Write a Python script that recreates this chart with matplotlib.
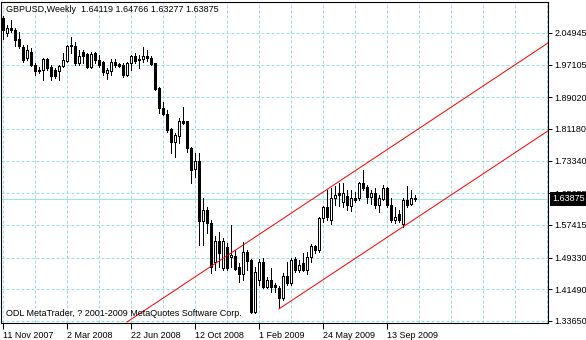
import numpy as np
import matplotlib
matplotlib.use('Agg')
import matplotlib.pyplot as plt
from matplotlib import transforms

# ---- Data (weekly GBPUSD bars) ----
opens = [2.0865, 2.0494, 2.0618, 2.0568, 2.0346, 2.0148, 1.9875, 2.0024, 1.9702, 1.9578,
         1.9578, 1.9851, 1.9652, 1.9578, 1.9553, 1.9677, 1.9801, 2.0197, 2.0172, 1.9751,
         2.0024, 1.9974, 1.9652, 1.9999, 1.9826, 1.9776, 1.9504, 1.9553, 1.9776, 1.9727,
         1.9702, 1.9454, 1.9751, 1.9925, 1.9851, 1.9851, 1.9925, 1.9875, 1.9751, 1.9133,
         1.8638, 1.8489, 1.8118, 1.7796, 1.7944, 1.8316, 1.8316, 1.7647, 1.7127, 1.7325,
         1.5840, 1.6113, 1.5791, 1.4825, 1.5345, 1.4677, 1.5196, 1.4948, 1.4974, 1.4701,
         1.4528, 1.5073, 1.4874, 1.3588, 1.4380, 1.4825, 1.4207, 1.4380, 1.4256, 1.4182,
         1.3934, 1.4479, 1.4305, 1.4899, 1.4627, 1.4800, 1.4627, 1.4948, 1.5221, 1.5122,
         1.5915, 1.6187, 1.5865, 1.6409, 1.6533, 1.6311, 1.6459, 1.6212, 1.6409, 1.6409,
         1.6781, 1.6682, 1.6434, 1.6533, 1.6236, 1.6385, 1.6657, 1.6236, 1.5865, 1.6013,
         1.5766, 1.6360, 1.6261, 1.64119]
highs = [2.0915, 2.0692, 2.0816, 2.0618, 2.0519, 2.0197, 2.0197, 2.0123, 1.9751, 1.9652,
         1.9875, 1.9875, 1.9702, 1.9628, 1.9702, 1.9999, 2.0197, 2.0395, 2.0271, 2.0073,
         2.0073, 1.9999, 2.0024, 2.0024, 1.9950, 1.9801, 1.9628, 1.9851, 1.9851, 1.9751,
         1.9751, 1.9776, 1.9950, 1.9999, 1.9950, 2.0148, 2.0073, 1.9925, 1.9751, 1.9157,
         1.8786, 1.8588, 1.8142, 1.8019, 1.8390, 1.8662, 1.8316, 1.7672, 1.7524, 1.7524,
         1.6409, 1.6187, 1.5865, 1.5469, 1.5568, 1.5419, 1.5295, 1.5741, 1.5122, 1.4800,
         1.5320, 1.5122, 1.4899, 1.4701, 1.4899, 1.4924, 1.4454, 1.4677, 1.4305, 1.4231,
         1.4553, 1.4825, 1.4924, 1.4948, 1.4874, 1.5048, 1.5073, 1.5271, 1.5246, 1.5939,
         1.6212, 1.6608, 1.6657, 1.6707, 1.6781, 1.6781, 1.6608, 1.6608, 1.6558, 1.6806,
         1.7103, 1.6731, 1.6608, 1.6657, 1.6484, 1.6731, 1.6682, 1.6409, 1.6187, 1.6113,
         1.6409, 1.6707, 1.6608, 1.64766]
lows = [2.0346, 2.0420, 2.0519, 2.0172, 2.0123, 1.9776, 1.9826, 1.9677, 1.9454, 1.9504,
        1.9331, 1.9578, 1.9331, 1.9380, 1.9331, 1.9652, 1.9776, 1.9999, 1.9702, 1.9702,
        1.9751, 1.9628, 1.9628, 1.9751, 1.9652, 1.9454, 1.9355, 1.9454, 1.9652, 1.9652,
        1.9405, 1.9430, 1.9578, 1.9751, 1.9628, 1.9776, 1.9801, 1.9702, 1.9083, 1.8514,
        1.8464, 1.8043, 1.7524, 1.7424, 1.7771, 1.8241, 1.7548, 1.6781, 1.6929, 1.5246,
        1.5246, 1.5543, 1.4553, 1.4627, 1.4701, 1.4627, 1.4627, 1.4701, 1.4627, 1.4330,
        1.4380, 1.4627, 1.3563, 1.3563, 1.4256, 1.4182, 1.4182, 1.4083, 1.4083, 1.3687,
        1.3884, 1.4256, 1.4256, 1.4578, 1.4578, 1.4602, 1.4528, 1.4825, 1.5048, 1.5073,
        1.5815, 1.5865, 1.5766, 1.6236, 1.6212, 1.6187, 1.6113, 1.6088, 1.6311, 1.6360,
        1.6608, 1.6286, 1.6261, 1.6162, 1.6063, 1.6360, 1.6187, 1.5815, 1.5791, 1.5815,
        1.5692, 1.6187, 1.6236, 1.63277]
closes = [2.0568, 2.0618, 2.0568, 2.0321, 2.0172, 1.9826, 2.0073, 1.9702, 1.9553, 1.9553,
          1.9851, 1.9628, 1.9430, 1.9430, 1.9677, 1.9826, 2.0172, 2.0172, 1.9751, 1.9925,
          1.9925, 1.9652, 1.9974, 1.9826, 1.9702, 1.9529, 1.9578, 1.9776, 1.9702, 1.9677,
          1.9454, 1.9751, 1.9925, 1.9801, 1.9826, 1.9925, 1.9875, 1.9727, 1.9108, 1.8638,
          1.8489, 1.8093, 1.7796, 1.7969, 1.8316, 1.8266, 1.7647, 1.7103, 1.7325, 1.5840,
          1.6113, 1.5791, 1.4701, 1.5345, 1.5048, 1.5345, 1.4677, 1.4999, 1.4652, 1.4528,
          1.5073, 1.4850, 1.3588, 1.4578, 1.4825, 1.4207, 1.4380, 1.4207, 1.4207, 1.3934,
          1.4479, 1.4305, 1.4874, 1.4627, 1.4751, 1.4627, 1.4948, 1.5221, 1.5122, 1.5915,
          1.6187, 1.5939, 1.6409, 1.6484, 1.6484, 1.6533, 1.6236, 1.6409, 1.6360, 1.6781,
          1.6657, 1.6434, 1.6533, 1.6236, 1.6409, 1.6657, 1.6236, 1.5865, 1.5939, 1.5865,
          1.6360, 1.6236, 1.6409, 1.63875]

date_labels = ['11 Nov 2007', '2 Mar 2008', '22 Jun 2008', '12 Oct 2008',
               '1 Feb 2009', '24 May 2009', '13 Sep 2009']
date_bars = [0, 16, 32, 48, 64, 80, 96]

price_ticks = [1.33650, 1.41490, 1.49330, 1.57415, 1.65255,
               1.73340, 1.81180, 1.89020, 1.97105, 2.04945]

# channel lines: (bar, price) anchors
upper_line = [(31, 1.3340), (136, 2.0231)]
lower_line = [(69, 1.3665), (136, 1.8055)]

title = 'GBPUSD,Weekly  1.64119 1.64766 1.63277 1.63875'
footer = 'ODL MetaTrader, ? 2001-2009 MetaQuotes Software Corp.'

# ---- Style ----
plt.rcParams['font.family'] = ['Liberation Sans', 'DejaVu Sans']
grid_col = '#98e0e0'
bid_col = '#98e6e6'
px = 0.72   # one pixel in points at 100 dpi
fs = 6.5

W, H = 586, 340
fig = plt.figure(figsize=(W / 100, H / 100), dpi=100)
ax_l, ax_r, ax_t, ax_b = 0.5, 548, 2, 323
ax = fig.add_axes([ax_l / W, 1 - ax_b / H, (ax_r - ax_l) / W, (ax_b - ax_t) / H])

o = np.array(opens)
h = np.array(highs)
l = np.array(lows)
c = np.array(closes)
idx = np.arange(len(o))

# ---- Grid ----
for x in range(0, 137, 8):
    ax.axvline(x, color=grid_col, lw=px, ls=(0, (3, 2)), zorder=1)
for p in price_ticks:
    ax.axhline(p, color=grid_col, lw=px, ls=(0, (3, 2)), zorder=1)

# bid line
ax.axhline(c[-1], color=bid_col, lw=px, zorder=1.5)

# ---- Candles ----
ax.vlines(idx, l, h, color='black', lw=px, zorder=3, antialiased=False)
up = c >= o
bot = np.minimum(o, c)
hgt = np.abs(c - o)
ax.bar(idx[up], hgt[up], 0.5, bot[up], facecolor='white', edgecolor='black',
       lw=px, zorder=4, antialiased=False)
ax.bar(idx[~up], hgt[~up], 0.5, bot[~up], facecolor='black', edgecolor='black',
       lw=px, zorder=4, antialiased=False)

# ---- Channel ----
def draw_ray(pts):
    (x0, y0), (x1, y1) = pts
    k = (y1 - y0) / (x1 - x0)
    xe = 140
    ax.plot([x0, xe], [y0, y0 + k * (xe - x0)], color='red', lw=px, zorder=5)

draw_ray(upper_line)
draw_ray(lower_line)

# ---- Axes ----
ax.set_xlim((ax_l - 3) / 4, (ax_r - 3) / 4)
ax.set_ylim(1.33152, 2.12615)

ax.set_xticks(date_bars)
ax.set_xticklabels(date_labels)
for lbl in ax.get_xticklabels():
    lbl.set_ha('left')
ax.tick_params(axis='x', direction='out', length=4, width=px, pad=2, labelsize=fs)

ax.yaxis.tick_right()
ax.set_yticks(price_ticks)
ax.set_yticklabels(['%.5f' % p for p in price_ticks])
ax.tick_params(axis='y', direction='out', length=3, width=px, pad=1.5, labelsize=fs)

for sp in ax.spines.values():
    sp.set_linewidth(px * 1.1)
    sp.set_color('black')

# bid price label on the axis
trans = transforms.blended_transform_factory(ax.transAxes, ax.transData)
ax.text(1.0075, c[-1], '%.5f' % c[-1], transform=trans, color='white',
        fontsize=fs, va='center', ha='left', clip_on=False, zorder=10,
        bbox=dict(boxstyle='square,pad=0.25', fc='black', ec='none'))

fig.text(6 / W, 1 - 10 / H, title, fontsize=fs, va='center', ha='left')
fig.text(6 / W, 1 - 314 / H, footer, fontsize=fs, va='center', ha='left')

fig.savefig('out.png', dpi=100, facecolor='white')
